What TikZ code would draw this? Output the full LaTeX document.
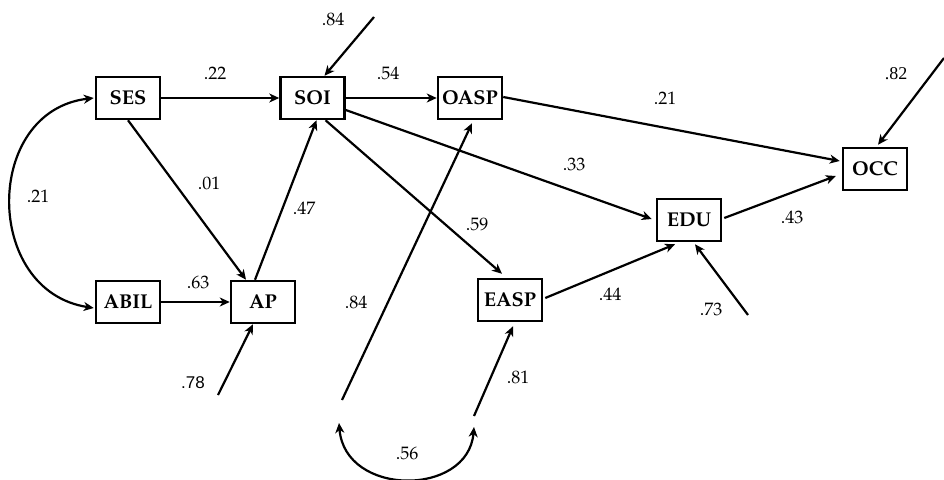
\documentclass[tikz,border=0pt]{standalone}
\usepackage{fontspec}
\setmainfont{TeX Gyre Pagella}
\newfontfamily\arialfont{Liberation Sans}
\newfontfamily\timesfont{Liberation Serif}
\usetikzlibrary{arrows.meta}
\tikzset{
  box/.style={draw, line width=2.5pt, minimum width=64pt, minimum height=42pt, inner sep=0pt, font=\fontsize{20}{20}\selectfont\bfseries},
  arr/.style={line width=2.2pt, -{Stealth[length=10pt,width=9pt,inset=3pt]}},
  darr/.style={line width=2.2pt, {Stealth[length=10pt,width=9pt,inset=3pt]}-{Stealth[length=10pt,width=9pt,inset=3pt]}},
  lab/.style={font=\fontsize{18}{18}\selectfont, inner sep=0pt}
}
\begin{document}
\begin{tikzpicture}[x=1pt,y=-1pt]
\useasboundingbox (0,0) rectangle (944,479);
% boxes
\node[box] (SES) at (128,98) {SES};
\node[box] (SOI) at (312.5,98) {SOI};
\node[box] (OASP) at (470,98) {OASP};
\node[box] (ABIL) at (128,302) {ABIL};
\node[box] (AP) at (263,302) {AP};
\node[box] (EASP) at (510,300) {EASP};
\node[box] (EDU) at (689,220) {EDU};
\node[box] (OCC) at (875,169) {OCC};
% free ends
\coordinate (eSOI) at (374,17);
\coordinate (eAP) at (218,395);
\coordinate (eOCC) at (944,58);
\coordinate (eEDU) at (748,315);
\coordinate (eOASP) at (342,400);
\coordinate (eEASP) at (474,416);
\coordinate (cL) at (339,423);
\coordinate (cR) at (474,427);
% connectors
\draw[arr] (SES) -- (SOI);
\draw[arr] (SOI) -- (OASP);
\draw[arr] (SES.south) -- ([xshift=-17pt]AP.north);
\draw[arr] ([xshift=-8pt]AP.north) -- ([xshift=4pt]SOI.south);
\draw[arr] (ABIL) -- (AP);
\draw[darr] ([xshift=-1pt]SES.west) .. controls (-17,111) and (-17,291) .. ([xshift=-1pt,yshift=-6pt]ABIL.west);
\draw[arr] (eAP) -- ([xshift=-10pt]AP.south);
\draw[arr] (eSOI) -- ([xshift=12pt]SOI.north);
\draw[arr] ([yshift=1pt]OASP.east) -- ([xshift=-2pt,yshift=8pt]OCC.west);
\draw[arr] ([yshift=-12pt]SOI.east) -- ([xshift=-4pt,yshift=1pt]EDU.west);
\draw[arr] ([xshift=13pt]SOI.south) -- ([xshift=-8pt,yshift=4pt]EASP.north);
\draw[arr] ([xshift=2pt,yshift=2pt]EASP.east) -- ([xshift=-14pt,yshift=-2pt]EDU.south);
\draw[arr] ([xshift=2pt,yshift=2pt]EDU.east) -- ([xshift=-6pt,yshift=-7pt]OCC.west);
\draw[arr] (eEDU) -- ([xshift=6pt,yshift=-2pt]EDU.south);
\draw[arr] (eOCC) -- ([xshift=3pt,yshift=2pt]OCC.north);
\draw[arr] (eOASP) -- ([xshift=2pt,yshift=-3pt]OASP.south);
\draw[arr] (eEASP) -- ([xshift=3pt,yshift=-4pt]EASP.south);
\draw[darr] (cL) .. controls (345,497) and (468,497) .. (cR);
% labels
\node[lab] at (215,73) {.22};
\node[lab] at (388,73) {.54};
\node[lab] at (333,19) {.84};
\node[lab] at (209,183) {.01};
\node[lab] at (304,208) {.47};
\node[lab] at (38,196) {.21};
\node[lab] at (198,282) {.63};
\node[lab,font=\arialfont\fontsize{17}{17}\selectfont] at (193,383) {.78};
\node[lab] at (665,98) {.21};
\node[lab] at (574,164) {.33};
\node[lab] at (477,224) {.59};
\node[lab] at (356,302) {.84};
\node[lab] at (610,294) {.44};
\node[lab] at (792,217) {.43};
\node[lab] at (711,309) {.73};
\node[lab,font=\timesfont\fontsize{18}{18}\selectfont] at (896,74) {.82};
\node[lab] at (518,377) {.81};
\node[lab] at (407,453) {.56};
\end{tikzpicture}
\end{document}
